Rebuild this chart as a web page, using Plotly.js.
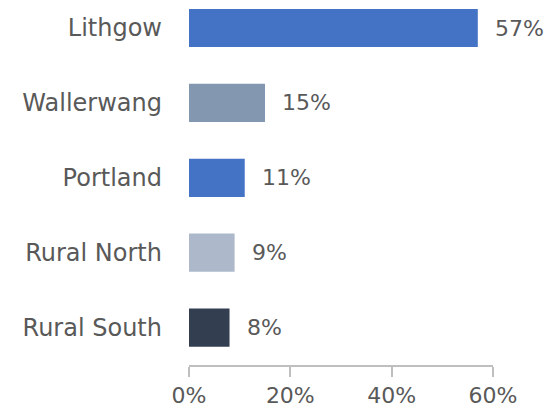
<!DOCTYPE html>
<html>
<head>
<meta charset="utf-8">
<script src="https://cdn.plot.ly/plotly-3.0.1.min.js"></script>
<style>html,body{margin:0;padding:0;background:#fff;}#chart{width:546px;height:415px;}</style>
</head>
<body>
<div id="chart"></div>
<script>
const categories = ["Lithgow", "Wallerwang", "Portland", "Rural North", "Rural South"];
const values = [57, 15, 11, 9, 8];
const barColors = ["#4472C4", "#8497B0", "#4472C4", "#ADB9CA", "#333F50"];
const tickVals = [0, 20, 40, 60];

const FONT = "'Century Gothic', 'DejaVu Sans', sans-serif";
const TXT = "#595959";

const trace = {
  type: "bar",
  orientation: "h",
  y: categories,
  x: values,
  marker: { color: barColors },
  hoverinfo: "none"
};

const annotations = categories.map((c, i) => ({
  x: values[i], y: c, xref: "x", yref: "y",
  text: values[i] + "%",
  showarrow: false, xanchor: "left", xshift: 15,
  font: { family: FONT, size: 22, color: TXT }
}));

const layout = {
  width: 546, height: 415,
  margin: { l: 188.5, r: 53, t: 0, b: 50 },
  paper_bgcolor: "#fff", plot_bgcolor: "#fff",
  showlegend: false,
  bargap: 0.49,
  font: { family: FONT, size: 22, color: TXT },
  xaxis: {
    range: [0, 60], tickvals: tickVals, ticktext: tickVals.map(v => v + "%"),
    showgrid: false, zeroline: false,
    showline: true, linecolor: "#BFBFBF", linewidth: 2,
    ticks: "outside", ticklen: 10, tickcolor: "#BFBFBF", tickwidth: 2,
    tickfont: { family: FONT, size: 22, color: TXT },
    fixedrange: true
  },
  yaxis: {
    type: "category",
    range: [4.5, -0.374],
    showgrid: false, zeroline: false, showline: false,
    ticks: "", ticklabelstandoff: 26,
    tickfont: { family: FONT, size: 24, color: TXT },
    fixedrange: true
  },
  annotations: annotations
};

Plotly.newPlot("chart", [trace], layout, { displayModeBar: false, staticPlot: true });
</script>
</body>
</html>
